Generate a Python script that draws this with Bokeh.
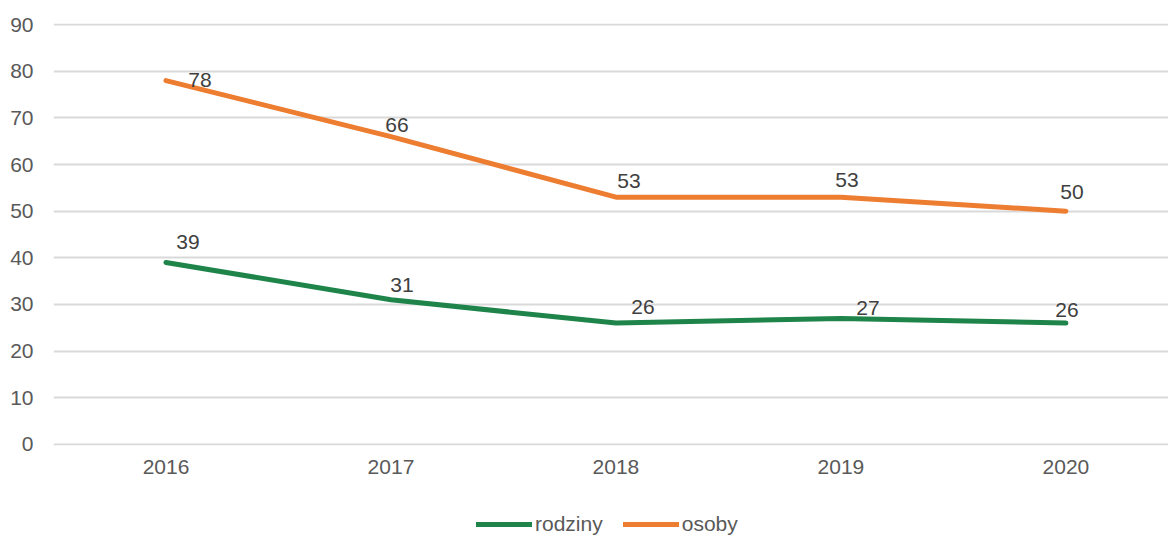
from bokeh.plotting import figure
from bokeh.layouts import column
from bokeh.models import ColumnDataSource, Legend, LegendItem, FixedTicker, Range1d
from bokeh.core.properties import value
from bokeh.embed import file_html
from bokeh.resources import INLINE

years = ["2016", "2017", "2018", "2019", "2020"]
rodziny = [39, 31, 26, 27, 26]
osoby = [78, 66, 53, 53, 50]
y_ticks = [0, 10, 20, 30, 40, 50, 60, 70, 80, 90]
series_names = ["rodziny", "osoby"]

# label placement tweaks (screen px)
rodziny_dx = [22, 11, 27, 27, 1]
rodziny_dy = [20, 15, 16, 10, 13]
osoby_dx = [34, 6, 13, 6, 6]
osoby_dy = [1, 12, 16, 17, 19]

FONT = "Liberation Sans"
TXT = "#595959"
GREEN = "#1E8449"
ORANGE = "#ED7D31"

xs = list(range(len(years)))

p = figure(frame_width=1115, frame_height=422, output_backend="svg", toolbar_location=None,
           x_range=Range1d(-0.5, 4.456), y_range=Range1d(-0.25, 90.25),
           min_border_left=53, min_border_right=0, min_border_top=23,
           min_border_bottom=48)
p.outline_line_color = None
p.background_fill_color = "white"
p.border_fill_color = "white"

p.xgrid.grid_line_color = None
p.ygrid.grid_line_color = "#D9D9D9"
p.ygrid.grid_line_width = 2
p.yaxis.ticker = FixedTicker(ticks=y_ticks)
p.xaxis.ticker = FixedTicker(ticks=xs)
p.xaxis.major_label_overrides = {i: y for i, y in enumerate(years)}

for ax in (p.xaxis, p.yaxis):
    ax.axis_line_color = None
    ax.major_tick_line_color = None
    ax.minor_tick_line_color = None
    ax.major_tick_out = 0
    ax.major_tick_in = 0
    ax.major_label_text_font = FONT
    ax.major_label_text_font_size = "21px"
    ax.major_label_text_color = TXT
p.yaxis.major_label_standoff = 20
p.xaxis.major_label_standoff = 14

src_r = ColumnDataSource(dict(x=xs, y=rodziny, t=[str(v) for v in rodziny],
                              dx=rodziny_dx, dy=[-d for d in rodziny_dy]))
src_o = ColumnDataSource(dict(x=xs, y=osoby, t=[str(v) for v in osoby],
                              dx=osoby_dx, dy=[-d for d in osoby_dy]))

line_kw = dict(line_width=5, line_cap="round", line_join="round")
p.line("x", "y", source=src_r, line_color=GREEN, **line_kw)
p.line("x", "y", source=src_o, line_color=ORANGE, **line_kw)

for s in (src_r, src_o):
    p.text("x", "y", text="t", source=s, x_offset="dx", y_offset="dy",
           text_font=value(FONT), text_font_size="21px", text_color="#404040",
           text_align="center", text_baseline="middle")

# legend strip below the chart (series drawn out of view, only the legend shows)
lg = figure(width=1168, height=43, output_backend="svg", toolbar_location=None,
            x_range=Range1d(-10, -9), y_range=Range1d(-10, -9),
            x_axis_type=None, y_axis_type=None, min_border=0)
lg.outline_line_color = None
lg.grid.grid_line_color = None
lr = lg.line("x", "y", source=src_r, line_color=GREEN, **line_kw)
lo = lg.line("x", "y", source=src_o, line_color=ORANGE, **line_kw)
legend = Legend(items=[LegendItem(label=series_names[0], renderers=[lr]),
                       LegendItem(label=series_names[1], renderers=[lo])],
                orientation="horizontal", location=(423, 0),
                label_text_font=FONT, label_text_font_size="21px",
                label_text_color=TXT, glyph_width=56, glyph_height=20,
                label_height=20, label_standoff=3, spacing=20,
                border_line_color=None, background_fill_alpha=0,
                padding=0, margin=0)
lg.add_layout(legend)

layout = column(p, lg, spacing=0)
open("out.html", "w").write(file_html(layout, INLINE))
